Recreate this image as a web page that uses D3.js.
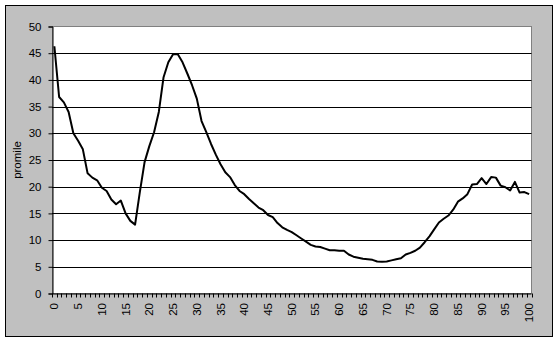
<!DOCTYPE html>
<html><head><meta charset="utf-8">
<script src="https://cdn.jsdelivr.net/npm/d3@7"></script>
<style>body{margin:0;background:#fff}svg{display:block}text{font-family:Arial,"Liberation Sans",sans-serif;font-size:11.5px;fill:#000}</style>
</head><body><svg id="c" width="560" height="343"></svg>
<script>
const categories = d3.range(0, 101);
const values = [46.3,36.8,35.8,34.0,30.0,28.6,27.0,22.5,21.7,21.2,
19.8,19.2,17.6,16.7,17.4,15.0,13.6,12.9,19.0,24.6,
27.6,30.2,34.0,40.5,43.3,44.8,44.8,43.3,41.2,39.0,
36.5,32.3,30.2,28.0,26.0,24.2,22.7,21.8,20.3,19.2,
18.6,17.7,16.9,16.1,15.6,14.7,14.3,13.2,12.4,11.9,
11.5,10.9,10.3,9.7,9.1,8.8,8.7,8.4,8.1,8.1,
8.0,8.0,7.3,6.9,6.7,6.5,6.4,6.3,6.0,5.95,
6.0,6.2,6.4,6.6,7.3,7.6,8.0,8.6,9.6,10.7,
12.0,13.3,14.0,14.6,15.7,17.2,17.8,18.6,20.4,20.5,
21.6,20.5,21.8,21.7,20.2,19.9,19.3,20.9,18.9,19.0,18.6];
const yTicks = [0,5,10,15,20,25,30,35,40,45,50];
const xLabels = d3.range(0, 101, 5);
const yTitle = "promile";

const svg = d3.select("#c");
const L = 52, R = 531.5, T = 26.5, B = 293.5;
svg.append("rect").attr("x",5.5).attr("y",5.5).attr("width",547).attr("height",331)
  .attr("fill","#c0c0c0").attr("stroke","#000");
svg.append("rect").attr("x",L).attr("y",T).attr("width",R-L).attr("height",B-T)
  .attr("fill","#fff").attr("stroke","#808080").attr("shape-rendering","crispEdges");

const x = d3.scaleBand().domain(categories).range([L, R]);
const y = d3.scaleLinear().domain([0, 50]).range([B, T]);

// gridlines
svg.append("g").selectAll("line").data(yTicks.filter(d => d > 0 && d < 50)).join("line")
  .attr("x1", L).attr("x2", R).attr("y1", d => Math.round(y(d)) + 0.5).attr("y2", d => Math.round(y(d)) + 0.5)
  .attr("stroke", "#000");

// y axis
const ya = svg.append("g").attr("transform", `translate(${L+0.5},0)`)
  .call(d3.axisLeft(y).tickValues(yTicks).tickSize(4).tickPadding(7).tickFormat(d3.format("d")));
ya.select(".domain").attr("stroke","#000");
ya.selectAll(".tick line").attr("stroke","#000");
ya.selectAll("text").attr("font-size", null).attr("font-family", null);
ya.attr("font-size", null).attr("font-family", null);

// x axis: ticks at band boundaries
const bounds = d3.range(0, 102).map(i => L + i * x.step());
const xa = svg.append("g");
xa.append("line").attr("x1", L).attr("x2", R).attr("y1", B + 0.5).attr("y2", B + 0.5).attr("stroke", "#000");
xa.selectAll("line.t").data(bounds).join("line").attr("class","t")
  .attr("x1", d => Math.round(d) + 0.5).attr("x2", d => Math.round(d) + 0.5)
  .attr("y1", B).attr("y2", B + 4).attr("stroke", "#000");
xa.selectAll("text").data(xLabels).join("text")
  .attr("transform", d => `translate(${x(d) + x.bandwidth()/2 + 4},303) rotate(-90)`)
  .attr("text-anchor", "end").text(d => d);

// y title
svg.append("text").attr("transform", `translate(21,${(T+B)/2}) rotate(-90)`)
  .attr("text-anchor","middle").text(yTitle);

// line
const line = d3.line().x((d, i) => x(categories[i]) + x.bandwidth()/2).y(d => y(d));
svg.append("path").datum(values).attr("d", line).attr("fill","none")
  .attr("stroke","#000").attr("stroke-width",2).attr("stroke-linejoin","round");
</script></body></html>
